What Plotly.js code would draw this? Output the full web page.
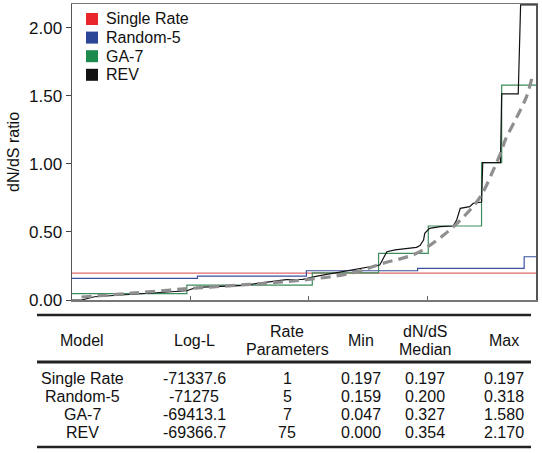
<!DOCTYPE html>
<html><head><meta charset="utf-8">
<script src="https://cdn.plot.ly/plotly-3.0.1.min.js"></script>
<style>html,body{margin:0;padding:0;background:#fff;}#chart{width:542px;height:453px;}</style>
</head><body><div id="chart"></div>
<script>
// ---- data (site rank on x, dN/dS on y) ----
const singleX = [0, 392];
const singleY = [0.197, 0.197];
const rand5X = [0, 106, 198, 292, 382, 392];
const rand5Y = [0.159, 0.176, 0.215, 0.233, 0.318, 0.318];
const ga7X = [0, 97, 203, 259, 301, 346, 363, 392];
const ga7Y = [0.047, 0.11, 0.20, 0.343, 0.544, 1.01, 1.58, 1.58];
const revX = [0, 8, 19, 57, 97, 105, 142, 181, 195, 207, 232, 243, 252, 260, 266, 273, 291, 294, 297, 298, 302, 311, 322, 325, 328, 336, 339, 346, 347, 362, 363, 377, 379, 392];
const revY = [0.0, 0.0, 0.024, 0.045, 0.068, 0.093, 0.105, 0.15, 0.152, 0.176, 0.213, 0.233, 0.245, 0.257, 0.355, 0.368, 0.387, 0.40, 0.44, 0.49, 0.527, 0.539, 0.544, 0.588, 0.674, 0.686, 0.71, 0.72, 1.01, 1.01, 1.515, 1.515, 2.17, 2.17];
const fitX = [8, 50, 100, 150, 193, 235, 263, 291, 314, 331, 345, 356, 363, 366, 376, 384, 388.5];
const fitY = [0.022, 0.05, 0.085, 0.115, 0.145, 0.196, 0.27, 0.343, 0.478, 0.613, 0.76, 0.956, 1.10, 1.176, 1.348, 1.495, 1.63];

const legendNames = ['Single Rate', 'Random-5', 'GA-7', 'REV'];
const legendColors = ['#e8262b', '#2b4597', '#1b8a4c', '#111111'];

// ---- table ----
const tableHeader = ['Model', 'Log-L', 'Rate|Parameters', 'Min', 'dN/dS|Median', 'Max'];
const models = ['Single Rate', 'Random-5', 'GA-7', 'REV'];
const logL = ['-71337.6', '-71275', '-69413.1', '-69366.7'];
const rateParams = ['1', '5', '7', '75'];
const mins = ['0.197', '0.159', '0.047', '0.000'];
const medians = ['0.197', '0.200', '0.327', '0.354'];
const maxs = ['0.197', '0.318', '1.580', '2.170'];

const FONT = 'Arial, "Liberation Sans", Helvetica, sans-serif';
const L = 72, R = 536, T = 4, B = 300;
const px2x = p => (p - L) / (R - L);
const py2y = p => (B - p) / (B - T);

const traces = [
  {x: singleX, y: singleY, mode: 'lines', line: {color: '#e06a6a', width: 1.3}, showlegend: false, hoverinfo: 'skip'},
  {x: rand5X, y: rand5Y, mode: 'lines', line: {color: '#3a4f9e', width: 1.2, shape: 'hv'}, showlegend: false, hoverinfo: 'skip'},
  {x: ga7X, y: ga7Y, mode: 'lines', line: {color: '#3c8c5c', width: 1.2, shape: 'hv'}, showlegend: false, hoverinfo: 'skip'},
  {x: revX, y: revY, mode: 'lines', line: {color: '#111', width: 1.2}, showlegend: false, hoverinfo: 'skip'},
  {x: fitX, y: fitY, mode: 'lines', line: {color: '#8f8f8f', width: 3.2, dash: '10px,6px', shape: 'spline'}, showlegend: false, hoverinfo: 'skip'}
];

const annotations = [];
const shapes = [];

// manual legend (squares + labels)
const legTop = 19, legStep = 18.6, sqL = 86, sqS = 12, txtL = 104;
legendNames.forEach((n, i) => {
  const cy = legTop + i * legStep;
  shapes.push({type: 'rect', xref: 'paper', yref: 'paper',
    x0: px2x(sqL), x1: px2x(sqL + sqS), y0: py2y(cy + sqS / 2), y1: py2y(cy - sqS / 2),
    fillcolor: legendColors[i], line: {width: 0}});
  annotations.push({text: n, xref: 'paper', yref: 'paper', x: px2x(txtL), y: py2y(cy),
    showarrow: false, xanchor: 'left', yanchor: 'middle',
    font: {family: FONT, size: 16, color: '#111'}});
});

const tbl = [];
const colX = [82, 194, 287, 361, 425, 504];
const hdrY = 340, hdr1 = 331, hdr2 = 349;
tableHeader.forEach((h, i) => {
  const parts = h.split('|');
  if (parts.length === 1) {
    tbl.push({text: parts[0], x: px2x(colX[i]), y: py2y(hdrY)});
  } else {
    tbl.push({text: parts[0], x: px2x(colX[i]), y: py2y(hdr1)});
    tbl.push({text: parts[1], x: px2x(colX[i]), y: py2y(hdr2)});
  }
});
const rowY = [378.5, 396.5, 414.5, 432.5];
const cols = [models, logL, rateParams, mins, medians, maxs];
cols.forEach((col, ci) => {
  col.forEach((v, ri) => {
    tbl.push({text: v, x: px2x(colX[ci]), y: py2y(rowY[ri])});
  });
});
tbl.forEach(a => {
  a.xref = 'paper'; a.yref = 'paper'; a.showarrow = false;
  a.xanchor = 'center'; a.yanchor = 'middle';
  a.font = {family: FONT, size: 16, color: '#111'};
  annotations.push(a);
});
annotations.push({text: 'dN/dS ratio', xref: 'paper', yref: 'paper', x: px2x(13), y: py2y(152),
  showarrow: false, textangle: -90, xanchor: 'center', yanchor: 'middle',
  font: {family: FONT, size: 16, color: '#111'}});

[[315, 2.5], [362, 3], [447, 2.5]].forEach(([yy, w]) => {
  shapes.push({type: 'line', xref: 'paper', yref: 'paper', x0: px2x(37), x1: px2x(531),
    y0: py2y(yy), y1: py2y(yy), line: {color: '#222', width: w}});
});

const layout = {
  width: 542, height: 453,
  margin: {l: L, r: 542 - R, t: T, b: 453 - B, pad: 0},
  paper_bgcolor: '#fff', plot_bgcolor: '#fff',
  showlegend: false,
  xaxis: {range: [0, 392], showgrid: false, zeroline: false, showticklabels: false,
    tickmode: 'array', tickvals: [100, 200, 300], ticks: 'inside', ticklen: 4, tickcolor: '#666',
    showline: true, linecolor: '#777', linewidth: 1.5, mirror: true},
  yaxis: {range: [0, 2.176], showgrid: false, zeroline: false,
    tickmode: 'array', tickvals: [0, 0.5, 1, 1.5, 2], ticktext: ['0.00', '0.50', '1.00', '1.50', '2.00'],
    ticks: 'outside', ticklen: 5, tickcolor: '#444',
    tickfont: {family: FONT, size: 17, color: '#111'},
    showline: true, linecolor: '#555', linewidth: 1.5, mirror: true},
  annotations: annotations,
  shapes: shapes
};
Plotly.newPlot('chart', traces, layout, {displayModeBar: false, staticPlot: true});
</script>
</body></html>
